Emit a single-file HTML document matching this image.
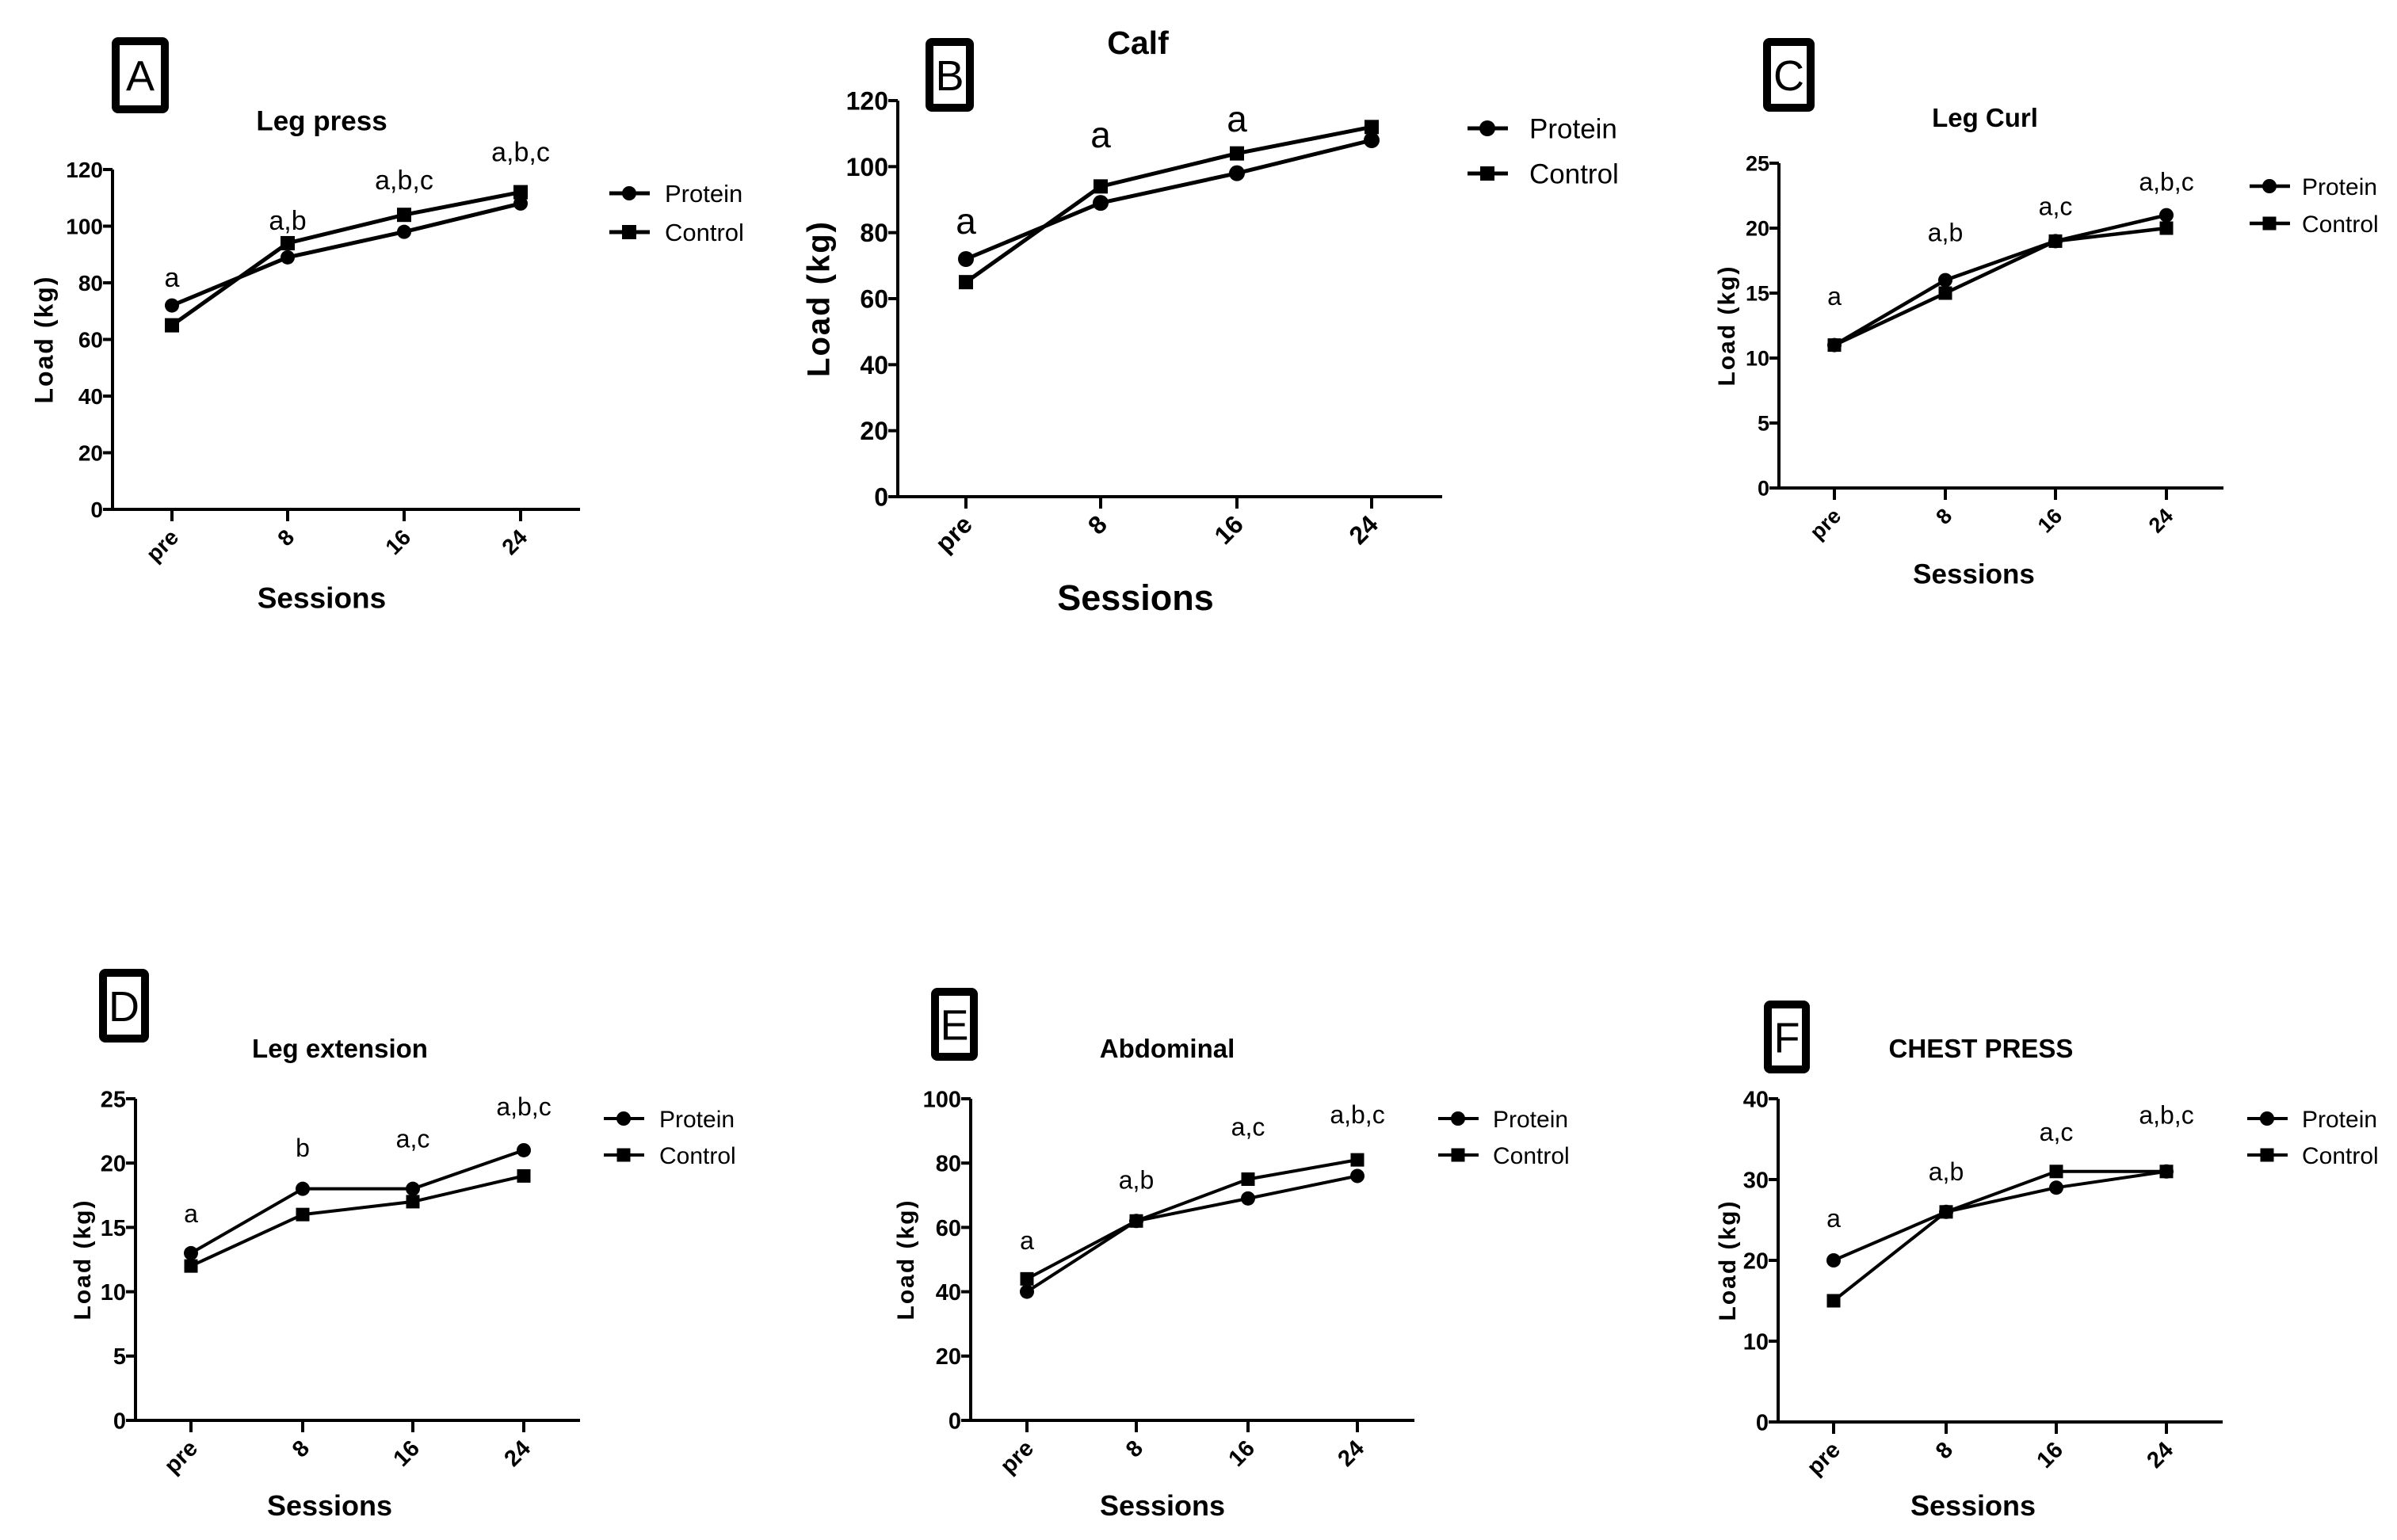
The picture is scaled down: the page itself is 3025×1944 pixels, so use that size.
<!DOCTYPE html>
<html><head><meta charset="utf-8"><title>Load by session</title>
<style>html,body{margin:0;padding:0;background:#fff}svg{display:block}text{font-family:"Liberation Sans",Arial,sans-serif;fill:#000}</style>
</head><body>
<svg id="fig" width="3025" height="1944" viewBox="0 0 3025 1944" xmlns="http://www.w3.org/2000/svg"></svg>
<script>
// ---- data ----
const categories = ["pre","8","16","24"];
const seriesNames = ["Protein","Control"];
const legPressProtein = [72,89,98,108];
const legPressControl = [65,94,104,112];
const calfProtein = [72,89,98,108];
const calfControl = [65,94,104,112];
const legCurlProtein = [11,16,19,21];
const legCurlControl = [11,15,19,20];
const legExtProtein = [13,18,18,21];
const legExtControl = [12,16,17,19];
const abdominalProtein = [40,62,69,76];
const abdominalControl = [44,62,75,81];
const chestProtein = [20,26,29,31];
const chestControl = [15,26,31,31];
const ticks120 = [0,20,40,60,80,100,120];
const ticks25 = [0,5,10,15,20,25];
const ticks100 = [0,20,40,60,80,100];
const ticks40 = [0,10,20,30,40];
const annotLegPress = ["a","a,b","a,b,c","a,b,c"];
const annotLegPressY = [78.6,98.7,113,123];
const annotCalf = ["a","a","a",""];
const annotCalfY = [79.7,105.8,110.6,0];
const annotLegCurl = ["a","a,b","a,c","a,b,c"];
const annotLegCurlY = [14.1,19,21,22.9];
const annotLegExt = ["a","b","a,c","a,b,c"];
const annotLegExtY = [15.4,20.5,21.2,23.7];
const annotAbd = ["a","a,b","a,c","a,b,c"];
const annotAbdY = [53.2,72.1,88.5,92.4];
const annotChest = ["a","a,b","a,c","a,b,c"];
const annotChestY = [24.1,29.9,34.8,36.9];

const NS="http://www.w3.org/2000/svg";
const svg=document.getElementById('fig');
function mk(tag,attrs,parent){const e=document.createElementNS(NS,tag);for(const k in attrs)e.setAttribute(k,attrs[k]);(parent||svg).appendChild(e);return e;}

const panels=[
 {id:'a',letter:'A',title:'Leg press',p:legPressProtein,c:legPressControl,ticks:ticks120,ymax:120,an:annotLegPress,anY:annotLegPressY,
  ax:142,y0:643,ytop:214,xend:732,cx:[217,363,510,657],box:[141,47,213,143],tx:406,ty:152,lgx:794,lgy:[244,293],ltx:839,sx:406,sy:754,yl:55,
  f:{tick:28,title:35,ses:37,leg:31,an:34,yt:32,box:54},lw:5,r:9,sq:18},
 {id:'b',letter:'B',title:'Calf',p:calfProtein,c:calfControl,ticks:ticks120,ymax:120,an:annotCalf,anY:annotCalfY,
  ax:1133,y0:627,ytop:127,xend:1820,cx:[1219,1389,1561,1731],box:[1168,48,1229,141],tx:1436,ty:53,lgx:1877,lgy:[162,219],ltx:1930,sx:1433,sy:754,yl:1032,
  f:{tick:32,title:41,ses:45,leg:35,an:46,yt:40,box:54},lw:5,r:10,sq:18},
 {id:'c',letter:'C',title:'Leg Curl',p:legCurlProtein,c:legCurlControl,ticks:ticks25,ymax:25,an:annotLegCurl,anY:annotLegCurlY,
  ax:2245,y0:616,ytop:206,xend:2806,cx:[2315,2455,2594,2734],box:[2225,48,2290,141],tx:2505,ty:148,lgx:2864,lgy:[235,282],ltx:2905,sx:2491,sy:724,yl:2178,
  f:{tick:27,title:33,ses:35,leg:30,an:32,yt:30,box:54},lw:4.5,r:9,sq:17},
 {id:'d',letter:'D',title:'Leg extension',p:legExtProtein,c:legExtControl,ticks:ticks25,ymax:25,an:annotLegExt,anY:annotLegExtY,
  ax:171,y0:1793,ytop:1387,xend:732,cx:[241,382,521,661],box:[125,1223,188,1316],tx:429,ty:1323,lgx:787,lgy:[1412,1458],ltx:832,sx:416,sy:1900,yl:103,
  f:{tick:29,title:33,ses:36,leg:30,an:32,yt:30,box:54},lw:4,r:9,sq:17},
 {id:'e',letter:'E',title:'Abdominal',p:abdominalProtein,c:abdominalControl,ticks:ticks100,ymax:100,an:annotAbd,anY:annotAbdY,
  ax:1225,y0:1793,ytop:1387,xend:1785,cx:[1296,1434,1575,1713],box:[1175,1247,1234,1339],tx:1473,ty:1323,lgx:1840,lgy:[1412,1458],ltx:1884,sx:1467,sy:1900,yl:1142,
  f:{tick:29,title:33,ses:36,leg:30,an:32,yt:30,box:54},lw:4,r:9,sq:17},
 {id:'f',letter:'F',title:'CHEST PRESS',p:chestProtein,c:chestControl,ticks:ticks40,ymax:40,an:annotChest,anY:annotChestY,
  ax:2244,y0:1795,ytop:1387,xend:2805,cx:[2314,2456,2595,2734],box:[2226,1263,2284,1355],tx:2500,ty:1323,lgx:2861,lgy:[1412,1458],ltx:2905,sx:2490,sy:1900,yl:2179,
  f:{tick:29,title:33,ses:36,leg:30,an:32,yt:30,box:54},lw:4,r:9,sq:17}
];

panels.forEach(P=>{
  const g=mk('g',{});
  
  
  const Y=v=>P.y0-(v/P.ymax)*(P.y0-P.ytop);
  const X=i=>P.cx[i];
  // panel letter box
  const b=P.box;
  const br=mk('rect',{x:b[0]+5,y:b[1]+5,width:b[2]-b[0]-10,height:b[3]-b[1]-10,fill:'none',stroke:'#000','stroke-width':10,rx:3},g);
  
  
  const bt=mk('text',{x:(b[0]+b[2])/2,y:(b[1]+b[3])/2+P.f.box*0.36,'text-anchor':'middle','font-size':P.f.box,'font-weight':'normal'},g);
  bt.textContent=P.letter;
  
  
  // title
  const tt=mk('text',{x:P.tx,y:P.ty+P.f.title*0.36,'text-anchor':'middle','font-size':P.f.title,'font-weight':'bold'},g);
  tt.textContent=P.title;
  
  
  // axes
  const ya=mk('line',{x1:P.ax,y1:P.ytop,x2:P.ax,y2:P.y0+2,stroke:'#000','stroke-width':4},g);
  
  
  const xa=mk('line',{x1:P.ax-12,y1:P.y0,x2:P.xend,y2:P.y0,stroke:'#000','stroke-width':4},g);
  
  
  P.ticks.forEach(t=>{
    mk('line',{x1:P.ax-12,y1:Y(t),x2:P.ax,y2:Y(t),stroke:'#000','stroke-width':4},g);
    const tl=mk('text',{x:P.ax-12,y:Y(t)+P.f.tick*0.36,'text-anchor':'end','font-size':P.f.tick,'font-weight':'bold'},g);
    tl.textContent=t;
    
    
  });
  categories.forEach((c,i)=>{
    mk('line',{x1:X(i),y1:P.y0,x2:X(i),y2:P.y0+15,stroke:'#000','stroke-width':4},g);
    const xl=mk('text',{x:0,y:0,'text-anchor':'end','font-size':P.f.tick,'font-weight':'bold',transform:'translate('+(X(i)+10)+','+(P.y0+37)+') rotate(-45)'},g);
    xl.textContent=c;
    
    
  });
  // axis titles
  const st=mk('text',{x:P.sx,y:P.sy+P.f.ses*0.36,'text-anchor':'middle','font-size':P.f.ses,'font-weight':'bold'},g);
  st.textContent='Sessions';
  
  
  const ym=(P.y0+P.ytop)/2;
  const yt=mk('text',{x:0,y:0,'text-anchor':'middle','font-size':P.f.yt,'font-weight':'bold','letter-spacing':2,transform:'translate('+(P.yl+P.f.yt*0.36)+','+ym+') rotate(-90)'},g);
  yt.textContent='Load (kg)';
  
  
  // series
  [P.p,P.c].forEach((arr,s)=>{
    const pts=arr.map((v,i)=>X(i)+','+Y(v)).join(' ');
    const pl=mk('polyline',{points:pts,fill:'none',stroke:'#000','stroke-width':P.lw,'stroke-linejoin':'round'},g);
    
    
    arr.forEach((v,i)=>{
      let m;
      if(s===0){m=mk('circle',{cx:X(i),cy:Y(v),r:P.r,fill:'#000'},g);}
      else{m=mk('rect',{x:X(i)-P.sq/2,y:Y(v)-P.sq/2,width:P.sq,height:P.sq,fill:'#000'},g);}
      
      
    });
  });
  // annotations
  P.an.forEach((a,i)=>{
    if(!a)return;
    const at=mk('text',{x:X(i),y:Y(P.anY[i]),'text-anchor':'middle','font-size':P.f.an},g);
    at.textContent=a;
    
    
  });
  // legend
  seriesNames.forEach((n,s)=>{
    const ly=P.lgy[s];
    const lg=mk('g',{},g);
    
    
    mk('line',{x1:P.lgx-25,y1:ly,x2:P.lgx+26,y2:ly,stroke:'#000','stroke-width':P.lw},lg);
    if(s===0)mk('circle',{cx:P.lgx,cy:ly,r:P.r,fill:'#000'},lg);
    else mk('rect',{x:P.lgx-P.sq/2,y:ly-P.sq/2,width:P.sq,height:P.sq,fill:'#000'},lg);
    const lt=mk('text',{x:P.ltx,y:ly+P.f.leg*0.36,'font-size':P.f.leg},lg);
    lt.textContent=n;
  });
});
</script>
</body></html>
